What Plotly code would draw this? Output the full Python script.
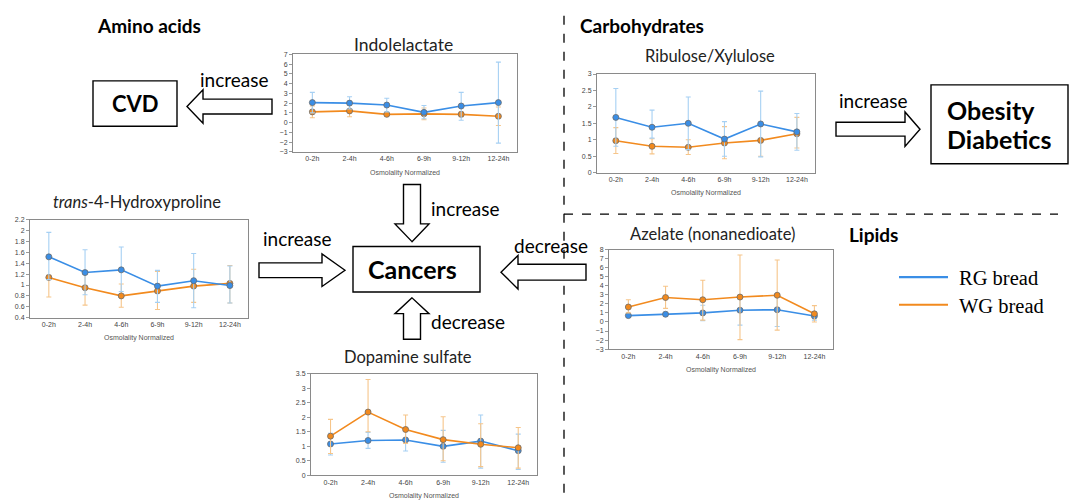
import plotly.graph_objects as go

W, H = 1085, 502

categories = ["0-2h", "2-4h", "4-6h", "6-9h", "9-12h", "12-24h"]

indole_rg = [2.05, 2.0, 1.8, 1.05, 1.7, 2.05]
indole_rg_hi = [3.1, 2.65, 2.5, 1.75, 3.1, 6.2]
indole_rg_lo = [1.0, 1.4, 1.1, 0.4, 0.25, -2.1]
indole_wg = [1.1, 1.2, 0.85, 0.9, 0.85, 0.65]
indole_wg_hi = [1.7, 1.8, 1.0, 1.5, 1.1, 1.6]
indole_wg_lo = [0.5, 0.6, 0.7, 0.3, 0.6, -0.3]

ribulose_rg = [1.68, 1.38, 1.5, 1.02, 1.48, 1.24]
ribulose_rg_hi = [2.56, 1.9, 2.3, 1.55, 2.48, 1.8]
ribulose_rg_lo = [0.8, 1.05, 0.7, 0.5, 0.48, 0.68]
ribulose_wg = [0.97, 0.8, 0.77, 0.9, 0.98, 1.18]
ribulose_wg_hi = [1.37, 1.03, 1.0, 1.4, 1.0, 1.68]
ribulose_wg_lo = [0.58, 0.57, 0.55, 0.42, 0.5, 0.75]

hyp_rg = [1.52, 1.23, 1.28, 0.98, 1.08, 0.99]
hyp_rg_hi = [1.97, 1.65, 1.7, 1.27, 1.58, 1.35]
hyp_rg_lo = [1.1, 0.82, 0.88, 0.68, 0.58, 0.67]
hyp_wg = [1.14, 0.95, 0.8, 0.89, 0.98, 1.03]
hyp_wg_hi = [1.18, 1.2, 1.02, 1.25, 1.29, 1.36]
hyp_wg_lo = [0.78, 0.63, 0.59, 0.55, 0.68, 0.67]

azel_rg = [0.7, 0.85, 1.0, 1.3, 1.35, 0.65]
azel_rg_hi = [0.9, 1.1, 1.85, 2.9, 2.9, 1.1]
azel_rg_lo = [0.5, 0.6, 0.15, -0.35, -0.5, 0.2]
azel_wg = [1.65, 2.7, 2.45, 2.75, 2.95, 0.9]
azel_wg_hi = [2.45, 3.95, 4.6, 7.4, 6.85, 1.8]
azel_wg_lo = [1.0, 1.5, 0.2, -1.95, -0.9, 0.0]

dopa_rg = [1.08, 1.2, 1.22, 1.0, 1.18, 0.85]
dopa_rg_hi = [1.45, 1.48, 1.6, 1.55, 2.08, 1.42]
dopa_rg_lo = [0.7, 0.93, 0.84, 0.45, 0.25, 0.2]
dopa_wg = [1.35, 2.18, 1.58, 1.23, 1.07, 0.95]
dopa_wg_hi = [1.93, 3.3, 2.08, 2.02, 1.78, 1.65]
dopa_wg_lo = [0.75, 1.5, 1.1, 0.5, 0.3, 0.25]

series_names = ["RG bread", "WG bread"]

RG_COLOR = "#3a8ee6"
WG_COLOR = "#f28a1e"
RG_ERR = "#a6d0f3"
WG_ERR = "#f6c58a"

FONT = "Lato"
TICKFONT = "Liberation Sans"


def px(x):
    return x / W


def py(y):
    return 1 - y / H


# (title, rg, rg_hi, rg_lo, wg, wg_hi, wg_lo, left, right, top, bottom, yrange, dtick, title_xy, title_size, wg_on_top)
charts = [
    ("Indolelactate", indole_rg, indole_rg_hi, indole_rg_lo, indole_wg, indole_wg_hi, indole_wg_lo,
     293, 517, 51, 150, [-3, 7], 1, (403, 41), 17.5, False),
    ("Ribulose/Xylulose", ribulose_rg, ribulose_rg_hi, ribulose_rg_lo, ribulose_wg, ribulose_wg_hi, ribulose_wg_lo,
     597, 815, 71, 171, [0, 3], 0.5, (710, 53), 16.5, False),
    ("<i>trans</i>-4-Hydroxyproline", hyp_rg, hyp_rg_hi, hyp_rg_lo, hyp_wg, hyp_wg_hi, hyp_wg_lo,
     30, 248, 219, 318, [0.4, 2.2], 0.2, (137, 201), 16.5, False),
    ("Azelate (nonanedioate)", azel_rg, azel_rg_hi, azel_rg_lo, azel_wg, azel_wg_hi, azel_wg_lo,
     609, 833, 249, 350, [-3, 8], 1, (712, 233), 16.5, True),
    ("Dopamine sulfate", dopa_rg, dopa_rg_hi, dopa_rg_lo, dopa_wg, dopa_wg_hi, dopa_wg_lo,
     311, 537, 375, 478, [0, 3.5], 0.5, (408, 358), 16.5, True),
]

fig = go.Figure()
annotations = []
shapes = []
layout_axes = {}

for i, (title, rg, rg_hi, rg_lo, wg, wg_hi, wg_lo, L, R, T, B, yr, dt, txy, tsize, wg_top) in enumerate(charts):
    n = i + 1
    xa = "x" if n == 1 else f"x{n}"
    ya = "y" if n == 1 else f"y{n}"

    def make(vals, hi, lo, color, ecolor, name):
        return go.Scatter(
            x=categories, y=vals, xaxis=xa, yaxis=ya, name=name, showlegend=False,
            mode="lines+markers",
            line=dict(color=color, width=1.6),
            marker=dict(size=6, color=color, line=dict(color="#6b6b6b", width=0.8)),
            error_y=dict(type="data", symmetric=False,
                         array=[h - v for h, v in zip(hi, vals)],
                         arrayminus=[v - l for v, l in zip(vals, lo)],
                         color=ecolor, thickness=1.1, width=2.5),
        )

    t_rg = make(rg, rg_hi, rg_lo, RG_COLOR, RG_ERR, series_names[0])
    t_wg = make(wg, wg_hi, wg_lo, WG_COLOR, WG_ERR, series_names[1])
    if wg_top:
        fig.add_trace(t_rg)
        fig.add_trace(t_wg)
    else:
        fig.add_trace(t_wg)
        fig.add_trace(t_rg)

    xkey = "xaxis" if n == 1 else f"xaxis{n}"
    ykey = "yaxis" if n == 1 else f"yaxis{n}"
    layout_axes[xkey] = dict(
        domain=[px(L), px(R)], anchor=ya, range=[-0.52, 5.5], type="category",
        showline=True, linecolor="#8a8a8a", linewidth=1, mirror=True,
        showgrid=False, zeroline=False, ticks="",
        tickfont=dict(family=TICKFONT, size=7, color="#444"),
    )
    layout_axes[ykey] = dict(
        domain=[py(B), py(T)], anchor=xa, range=yr, dtick=dt, tick0=yr[0],
        showline=True, linecolor="#8a8a8a", linewidth=1, mirror=True,
        showgrid=False, zeroline=False, ticks="outside", ticklen=3, tickcolor="#999",
        tickfont=dict(family=TICKFONT, size=7, color="#444"),
    )
    annotations.append(dict(
        text=title, x=px(txy[0]), y=py(txy[1]), xref="paper", yref="paper",
        showarrow=False, xanchor="center", yanchor="middle",
        font=dict(family=FONT, size=tsize, color="#222"),
    ))
    annotations.append(dict(
        text="Osmolality Normalized", x=px((L + R) / 2), y=py(B + 21), xref="paper", yref="paper",
        showarrow=False, xanchor="center", yanchor="middle",
        font=dict(family=TICKFONT, size=7, color="#555"),
    ))


def text(t, x, y, size, bold=False, anchor="center", family=FONT):
    annotations.append(dict(
        text=f"<b>{t}</b>" if bold else t, x=px(x), y=py(y), xref="paper", yref="paper",
        showarrow=False, xanchor=anchor, yanchor="middle",
        font=dict(family=family, size=size, color="black"),
    ))


def path_shape(points, fill="white", width=1.4):
    d = "M " + " L ".join(f"{px(a):.5f},{py(b):.5f}" for a, b in points) + " Z"
    shapes.append(dict(type="path", path=d, xref="paper", yref="paper",
                       line=dict(color="black", width=width), fillcolor=fill))


def rect(x0, y0, x1, y1):
    shapes.append(dict(type="rect", x0=px(x0), x1=px(x1), y0=py(y0), y1=py(y1),
                       xref="paper", yref="paper", line=dict(color="black", width=1.4)))


def hline(x0, x1, y, color="black", width=1.4, dash=None):
    shapes.append(dict(type="line", x0=px(x0), x1=px(x1), y0=py(y), y1=py(y),
                       xref="paper", yref="paper", line=dict(color=color, width=width, dash=dash)))


def vline(x, y0, y1, color="black", width=1.4, dash=None):
    shapes.append(dict(type="line", x0=px(x), x1=px(x), y0=py(y0), y1=py(y1),
                       xref="paper", yref="paper", line=dict(color=color, width=width, dash=dash)))


def arrow_horiz(tip_x, cy, base_x, end_x, shaft_h, head_h):
    path_shape([(tip_x, cy), (base_x, cy - head_h / 2), (base_x, cy - shaft_h / 2),
                (end_x, cy - shaft_h / 2), (end_x, cy + shaft_h / 2), (base_x, cy + shaft_h / 2),
                (base_x, cy + head_h / 2)])


def arrow_vert(tip_y, cx, base_y, end_y, shaft_w, head_w):
    path_shape([(cx, tip_y), (cx - head_w / 2, base_y), (cx - shaft_w / 2, base_y),
                (cx - shaft_w / 2, end_y), (cx + shaft_w / 2, end_y), (cx + shaft_w / 2, base_y),
                (cx + head_w / 2, base_y)])


# Section dividers
vline(564, 12, 502, dash="dash", width=1.3)
hline(564, 1058, 213, dash="dash", width=1.3)

# Section headings
text("Amino acids", 95, 22, 19, bold=True, anchor="left")
text("Carbohydrates", 578, 22, 19, bold=True, anchor="left")
text("Lipids", 847, 234, 19, bold=True, anchor="left")

# CVD
rect(93, 78, 177, 124)
text("CVD", 135, 101, 22, bold=True)
arrow_horiz(187, 104, 203, 272, 15, 34)
text("increase", 234, 77, 19)

# Cancers
rect(353, 246, 480, 292)
text("Cancers", 412, 269, 25, bold=True)
arrow_vert(241, 412, 223, 183, 17, 34)
text("increase", 465, 207, 19)
arrow_vert(298, 412, 314, 340, 17, 34)
text("decrease", 468, 322, 19)
arrow_horiz(501, 272, 518, 586, 16, 34)
text("decrease", 551, 245, 19)
arrow_horiz(345, 270, 322, 259, 15, 33)
text("increase", 297, 238, 19)

# Obesity / Diabetics
rect(931, 82, 1068, 162)
text("Obesity", 945, 108, 25, bold=True, anchor="left")
text("Diabetics", 945, 137, 25, bold=True, anchor="left")
arrow_horiz(920, 127, 905, 836, 14, 35)
text("increase", 873, 98, 19)

# Legend
hline(899, 948, 277, color=RG_COLOR, width=2.2)
hline(899, 948, 305, color=WG_COLOR, width=2.2)
text(series_names[0], 957, 278, 20.5, anchor="left", family="Liberation Serif")
text(series_names[1], 957, 306, 20.5, anchor="left", family="Liberation Serif")

fig.update_layout(
    width=W, height=H, margin=dict(l=0, r=0, t=0, b=0),
    paper_bgcolor="white", plot_bgcolor="white",
    showlegend=False, annotations=annotations, shapes=shapes,
    **layout_axes,
)

fig.write_html("out.html", config={"displayModeBar": False},
               post_script="document.body.style.margin='0';document.body.style.padding='0';")
